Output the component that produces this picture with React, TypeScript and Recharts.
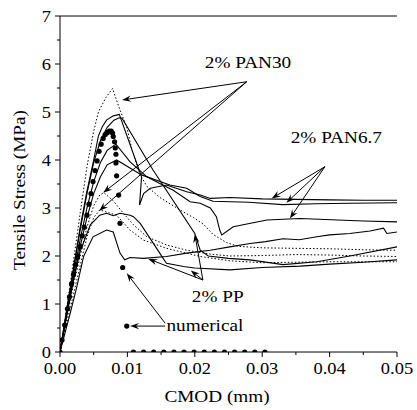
import React from 'react';
import { ComposedChart, Line, Scatter, XAxis, YAxis, ReferenceLine, ReferenceDot } from 'recharts';

/** Tensile stress vs CMOD: PAN30 / PAN6.7 / PP test curves with numerical result dots. */

const FONT = '"Liberation Serif", "Times New Roman", serif';

const xTicks = [0, 0.005, 0.01, 0.015, 0.02, 0.025, 0.03, 0.035, 0.04, 0.045, 0.05];
const yTicks = [0, 0.5, 1, 1.5, 2, 2.5, 3, 3.5, 4, 4.5, 5, 5.5, 6, 6.5, 7];

// 2% PAN30 (dotted)
const pan30aCmod = [0, 0.001, 0.002, 0.003, 0.004, 0.005, 0.0057, 0.0068, 0.0078, 0.0089, 0.0099, 0.0107, 0.0119, 0.0129, 0.0148, 0.0178, 0.0198, 0.0213, 0.0227, 0.0247, 0.0265, 0.03, 0.035, 0.04, 0.045, 0.05];
const pan30aStress = [0, 0.9, 1.9, 2.9, 3.86, 4.6, 5.0, 5.3, 5.49, 5.04, 4.69, 4.2, 3.69, 3.45, 3.22, 2.96, 2.8, 2.66, 2.45, 2.28, 2.2, 2.17, 2.16, 2.15, 2.13, 2.12];
const pan30bCmod = [0, 0.001, 0.002, 0.003, 0.004, 0.005, 0.0059, 0.0065, 0.0079, 0.0094, 0.0109, 0.0129, 0.0158, 0.0188, 0.0223, 0.0252, 0.03, 0.035, 0.04, 0.045, 0.05];
const pan30bStress = [0, 0.7, 1.4, 2.0, 2.6, 3.05, 3.27, 3.32, 3.15, 2.89, 2.65, 2.4, 2.23, 2.12, 2.04, 2.0, 2.01, 2.03, 2.02, 2.0, 1.99];
const pan30cCmod = [0, 0.001, 0.002, 0.003, 0.004, 0.005, 0.0059, 0.0084, 0.0104, 0.0124, 0.0158, 0.0208, 0.0252, 0.03, 0.035, 0.04, 0.045, 0.05];
const pan30cStress = [0, 0.6, 1.2, 1.8, 2.4, 2.8, 2.96, 2.85, 2.54, 2.33, 2.16, 1.99, 1.9, 1.86, 1.87, 1.88, 1.88, 1.88];

// 2% PAN6.7 (solid)
const pan67aCmod = [0, 0.001, 0.002, 0.003, 0.004, 0.005, 0.0057, 0.0063, 0.0069, 0.0079, 0.0088, 0.0121, 0.0118, 0.0124, 0.0134, 0.0158, 0.0188, 0.0208, 0.0223, 0.0252, 0.03, 0.035, 0.04, 0.045, 0.05];
const pan67aStress = [0, 0.9, 1.75, 2.6, 3.35, 4.0, 4.5, 4.7, 4.83, 4.92, 4.95, 3.65, 3.06, 3.3, 3.41, 3.48, 3.34, 3.27, 3.2, 3.22, 3.19, 3.18, 3.17, 3.16, 3.16];
const pan67bCmod = [0, 0.001, 0.002, 0.003, 0.004, 0.005, 0.006, 0.007, 0.0084, 0.0121, 0.0163, 0.0188, 0.0208, 0.0227, 0.028, 0.033, 0.038, 0.043, 0.05];
const pan67bStress = [0, 0.75, 1.5, 2.2, 2.8, 3.3, 3.65, 3.9, 4.0, 3.69, 3.48, 3.41, 3.24, 3.14, 3.12, 3.07, 3.09, 3.1, 3.11];
const pan67cCmod = [0, 0.001, 0.002, 0.003, 0.004, 0.005, 0.006, 0.007, 0.0083, 0.0104, 0.0129, 0.0148, 0.0168, 0.0193, 0.0208, 0.0223, 0.0232, 0.0237, 0.024, 0.0257, 0.0307, 0.0356, 0.045, 0.05];
const pan67cStress = [0, 0.8, 1.6, 2.35, 3.0, 3.55, 3.95, 4.2, 4.33, 3.96, 3.65, 3.51, 3.37, 3.13, 3.1, 3.0, 2.82, 2.54, 2.44, 2.61, 2.75, 2.78, 2.73, 2.71];

// 2% PP (solid)
const ppaCmod = [0, 0.001, 0.002, 0.003, 0.004, 0.005, 0.006, 0.007, 0.008, 0.0088, 0.0092, 0.0138, 0.02, 0.0208, 0.022, 0.025, 0.0282, 0.0331, 0.0381, 0.043, 0.05];
const ppaStress = [0, 0.85, 1.7, 2.55, 3.3, 3.95, 4.4, 4.68, 4.83, 4.88, 4.87, 3.79, 2.47, 2.12, 2.0, 1.95, 1.92, 1.82, 1.88, 2.0, 2.19];
const ppbCmod = [0, 0.001, 0.002, 0.003, 0.0045, 0.0059, 0.0069, 0.0079, 0.0089, 0.0104, 0.0109, 0.0119, 0.0148, 0.0153, 0.0158, 0.0183, 0.02, 0.0252, 0.03, 0.0356, 0.04, 0.045, 0.05];
const ppbStress = [0, 0.8, 1.5, 2.1, 2.65, 2.85, 2.89, 2.84, 2.89, 2.85, 2.82, 2.68, 2.06, 1.95, 1.85, 1.78, 1.75, 1.71, 1.76, 1.79, 1.83, 1.87, 1.92];
const ppcCmod = [0, 0.0015, 0.0025, 0.0035, 0.0049, 0.0069, 0.0079, 0.0089, 0.0096, 0.0104, 0.0124, 0.0158, 0.0188, 0.0223, 0.0252, 0.0282, 0.0305, 0.0331, 0.0355, 0.0381, 0.04, 0.043, 0.046, 0.048, 0.0485, 0.05];
const ppcStress = [0, 0.8, 1.36, 1.99, 2.4, 2.54, 2.5, 2.06, 1.92, 1.97, 1.95, 1.99, 2.06, 2.12, 2.19, 2.26, 2.3, 2.36, 2.34, 2.4, 2.44, 2.47, 2.52, 2.58, 2.47, 2.5];

// numerical (dots)
const numCmod = [0, 0.0003, 0.0007, 0.0011, 0.0014, 0.0017, 0.002, 0.0023, 0.0026, 0.003, 0.0033, 0.0036, 0.004, 0.0043, 0.0046, 0.0049, 0.0052, 0.0055, 0.0058, 0.0061, 0.0064, 0.0067, 0.007, 0.0073, 0.0076, 0.0078, 0.0079, 0.0081, 0.0082, 0.0083, 0.0083, 0.0084, 0.0087, 0.0089, 0.0093, 0.0099, 0.0109, 0.0124, 0.0139, 0.0154, 0.0169, 0.0184, 0.0199, 0.0214, 0.0229, 0.0244, 0.0259, 0.0274, 0.0289, 0.0304];
const numStress = [0, 0.25, 0.56, 0.9, 1.15, 1.42, 1.62, 1.82, 1.98, 2.2, 2.42, 2.6, 2.85, 3.08, 3.3, 3.55, 3.78, 3.98, 4.18, 4.33, 4.45, 4.53, 4.57, 4.6, 4.6, 4.56, 4.49, 4.38, 4.25, 4.12, 3.94, 3.67, 3.27, 2.68, 1.76, 0.54, 0, 0, 0, 0, 0, 0, 0, 0, 0, 0, 0, 0, 0, 0];

// annotation labels (baseline centre) and arrows
const labelText = ['2% PAN30', '2% PAN6.7', '2% PP', 'numerical'];
const labelCmod = [0.0279, 0.041, 0.0234, 0.0215];
const labelStress = [5.92, 4.35, 1.04, 0.44];

const arrowFromX = [0.0277, 0.0277, 0.0277, 0.0393, 0.0393, 0.0393, 0.0212, 0.0212, 0.0212, 0.0156, 0.0156];
const arrowFromY = [5.63, 5.63, 5.63, 3.86, 3.86, 3.86, 1.5, 1.5, 1.5, 0.54, 0.6];
const arrowToX = [0.0092, 0.0064, 0.0058, 0.0314, 0.0336, 0.0341, 0.0131, 0.0194, 0.02, 0.0104, 0.0099];
const arrowToY = [5.25, 3.32, 2.94, 3.2, 3.11, 2.78, 1.94, 1.7, 2.46, 0.54, 1.64];

const zip = (xs: number[], ys: number[]) => xs.map((x, i) => ({ x, y: ys[i] }));

const solid = [zip(pan67aCmod, pan67aStress), zip(pan67bCmod, pan67bStress), zip(pan67cCmod, pan67cStress), zip(ppaCmod, ppaStress), zip(ppbCmod, ppbStress), zip(ppcCmod, ppcStress)];
const dotted = [zip(pan30aCmod, pan30aStress), zip(pan30bCmod, pan30bStress), zip(pan30cCmod, pan30cStress)];
const numerical = zip(numCmod, numStress);

function Txt({ x, y, children, size = 17.5, anchor = 'middle', rotate = 0, sx = 1.1 }: any) {
  return (
    <text
      transform={`translate(${x},${y}) rotate(${rotate}) scale(${sx},1)`}
      textAnchor={anchor}
      fontFamily={FONT}
      fontSize={size}
      fill="#000"
    >
      {children}
    </text>
  );
}

const XTick = (p: any) => {
  const v = p.payload.value;
  const major = Math.round(v * 1000) % 10 === 0;
  return (
    <g>
      <line x1={p.x} y1={p.y} x2={p.x} y2={p.y + (major ? 5 : 3)} stroke="#000" />
      {major && (
        <Txt x={p.x} y={p.y + 22} size={16.5} sx={1.12}>
          {v.toFixed(2)}
        </Txt>
      )}
    </g>
  );
};

const YTick = (p: any) => {
  const v = p.payload.value;
  const major = Number.isInteger(v);
  return (
    <g>
      <line x1={p.x} y1={p.y} x2={p.x - (major ? 5 : 3)} y2={p.y} stroke="#000" />
      {major && (
        <Txt x={p.x - 9} y={p.y + 5.5} size={16.5} sx={1.12} anchor="end">
          {String(v)}
        </Txt>
      )}
    </g>
  );
};

const ArrowShape = (p: any) => {
  const { x1, y1, x2, y2 } = p;
  const dx = x2 - x1;
  const dy = y2 - y1;
  const len = Math.hypot(dx, dy) || 1;
  const ux = dx / len;
  const uy = dy / len;
  const nx = -uy;
  const ny = ux;
  const L = 9;
  const W = 3.2;
  const bx = x2 - ux * L;
  const by = y2 - uy * L;
  const pts = `${x2},${y2} ${bx + nx * W},${by + ny * W} ${x2 - ux * L * 0.65},${y2 - uy * L * 0.65} ${bx - nx * W},${by - ny * W}`;
  return (
    <g>
      <line x1={x1} y1={y1} x2={x2 - ux * 4} y2={y2 - uy * 4} stroke="#000" strokeWidth={1} />
      <polygon points={pts} fill="#000" />
    </g>
  );
};

export default function App() {
  return (
    <div style={{ position: 'absolute', left: 0, top: 0, background: '#fff' }}>
      <ComposedChart width={417} height={410} margin={{ top: 16, right: 20, bottom: 0, left: 0 }}>
        <XAxis
          xAxisId="b"
          dataKey="x"
          type="number"
          domain={[0, 0.05]}
          ticks={xTicks}
          interval={0}
          height={58}
          tickSize={0}
          tickMargin={0}
          tickLine={false}
          axisLine={{ stroke: '#000' }}
          tick={<XTick />}
          allowDataOverflow
          label={() => (
            <Txt x={217} y={402}>
              CMOD (mm)
            </Txt>
          )}
        />
        <YAxis
          yAxisId="l"
          type="number"
          domain={[0, 7]}
          ticks={yTicks}
          interval={0}
          width={60}
          tickSize={0}
          tickMargin={0}
          tickLine={false}
          axisLine={{ stroke: '#000' }}
          tick={<YTick />}
          allowDataOverflow
          label={() => (
            <Txt x={25} y={190} rotate={-90}>
              Tensile Stress (MPa)
            </Txt>
          )}
        />
        <YAxis yAxisId="r" orientation="right" type="number" domain={[0, 7]} ticks={yTicks} interval={0} mirror tick={false} tickSize={3} axisLine={{ stroke: '#555', strokeWidth: 1.5 }} tickLine={{ stroke: '#555' }} width={0} />
        <ReferenceLine xAxisId="b" yAxisId="l" y={7} stroke="#000" strokeWidth={1} ifOverflow="visible" />

        {dotted.map((d, i) => (
          <Line key={`d${i}`} xAxisId="b" yAxisId="l" data={d} dataKey="y" type="linear" dot={false} stroke="#000" strokeWidth={1} strokeDasharray="1.5 2" isAnimationActive={false} />
        ))}
        {solid.map((d, i) => (
          <Line key={`s${i}`} xAxisId="b" yAxisId="l" data={d} dataKey="y" type="linear" dot={false} stroke="#000" strokeWidth={1.1} isAnimationActive={false} />
        ))}
        <Scatter
          xAxisId="b"
          yAxisId="l"
          data={numerical}
          dataKey="y"
          isAnimationActive={false}
          shape={(p: any) => <circle cx={p.cx} cy={p.cy} r={2.6} fill="#000" />}
        />

        {arrowFromX.map((fx, i) => (
          <ReferenceLine
            key={`a${i}`}
            xAxisId="b"
            yAxisId="l"
            segment={[
              { x: fx, y: arrowFromY[i] },
              { x: arrowToX[i], y: arrowToY[i] },
            ]}
            ifOverflow="visible"
            shape={ArrowShape}
          />
        ))}
        {labelText.map((t, i) => (
          <ReferenceDot
            key={`l${i}`}
            xAxisId="b"
            yAxisId="l"
            x={labelCmod[i]}
            y={labelStress[i]}
            ifOverflow="visible"
            shape={(p: any) => <Txt x={p.cx} y={p.cy}>{t}</Txt>}
          />
        ))}
      </ComposedChart>
    </div>
  );
}
